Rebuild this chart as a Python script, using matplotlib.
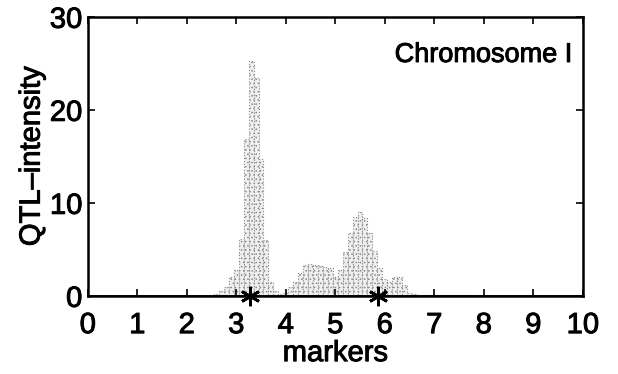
import matplotlib
matplotlib.use("Agg")
import matplotlib.pyplot as plt
import matplotlib.patheffects as pe

# bin centres (markers) and QTL intensity
bin_centers = [2.6, 2.7, 2.8, 2.9, 3.0, 3.1, 3.2, 3.3, 3.4, 3.5, 3.6, 3.7, 3.8, 3.9,
               4.0, 4.1, 4.2, 4.3, 4.4, 4.5, 4.6, 4.7, 4.8, 4.9, 5.0, 5.1, 5.2, 5.3,
               5.4, 5.5, 5.6, 5.7, 5.8, 5.9, 6.0, 6.1, 6.2, 6.3, 6.4, 6.5, 6.6, 6.7,
               6.8, 6.9, 7.0, 7.1, 7.2, 7.3, 7.4, 7.5, 7.6, 7.7, 7.8]
intensity = [0.2, 0.5, 1.0, 2.0, 2.8, 6.1, 16.9, 25.2, 23.4, 14.7, 6.0, 1.5, 0.5, 0.2,
             0.3, 1.0, 1.5, 2.5, 3.3, 3.4, 3.3, 3.2, 3.1, 3.0, 2.0, 2.8, 4.7, 6.8,
             8.5, 9.0, 8.4, 6.8, 4.8, 3.0, 1.8, 1.5, 2.0, 2.0, 1.2, 0.3, 0.2, 0.1,
             0.1, 0.1, 0.1, 0.1, 0.1, 0.1, 0.1, 0.1, 0.1, 0.1, 0.1]
true_qtl = [3.27, 5.86]
x_ticks = [0, 1, 2, 3, 4, 5, 6, 7, 8, 9, 10]
y_ticks = [0, 10, 20, 30]

plt.rcParams["font.family"] = ["Liberation Sans", "DejaVu Sans"]
plt.rcParams["hatch.color"] = "#707070"
plt.rcParams["hatch.linewidth"] = 0.6

# scanned print looks a bit heavier than plain regular weight
heavy = [pe.withStroke(linewidth=0.7, foreground="black")]

fig = plt.figure(figsize=(6.18, 3.74), dpi=100)
ax = fig.add_axes([0.142, 0.209, 0.801, 0.746])

ax.bar(bin_centers, intensity, width=0.1, color="#f0f0f0", edgecolor="#8a8a8a",
       linewidth=0.8, linestyle=":", hatch="....")
ax.axhline(0, color="black", linewidth=2)
ax.plot(true_qtl, [0, 0], linestyle="none", marker=(6, 2, 0), markersize=14,
        markeredgewidth=2, color="black", clip_on=False, zorder=5)

ax.text(6.2, 25.9, "Chromosome I", fontsize=19.5, va="center", ha="left",
        path_effects=heavy)

ax.set_xlim(0, 10)
ax.set_ylim(0, 30)
ax.set_xticks(x_ticks)
ax.set_yticks(y_ticks)
ax.tick_params(direction="in", top=True, right=True, labelsize=21, width=1.2,
               length=5)
ax.tick_params(axis="x", pad=11)
ax.tick_params(axis="y", pad=4)
for lab in ax.get_xticklabels() + ax.get_yticklabels():
    lab.set_path_effects(heavy)
ax.set_xlabel("markers", fontsize=21, labelpad=0, path_effects=heavy)
ax.set_ylabel("QTL\u2013intensity", fontsize=21, labelpad=3, path_effects=heavy)
for s in ax.spines.values():
    s.set_linewidth(1.8)

fig.savefig("out.png", dpi=100)
